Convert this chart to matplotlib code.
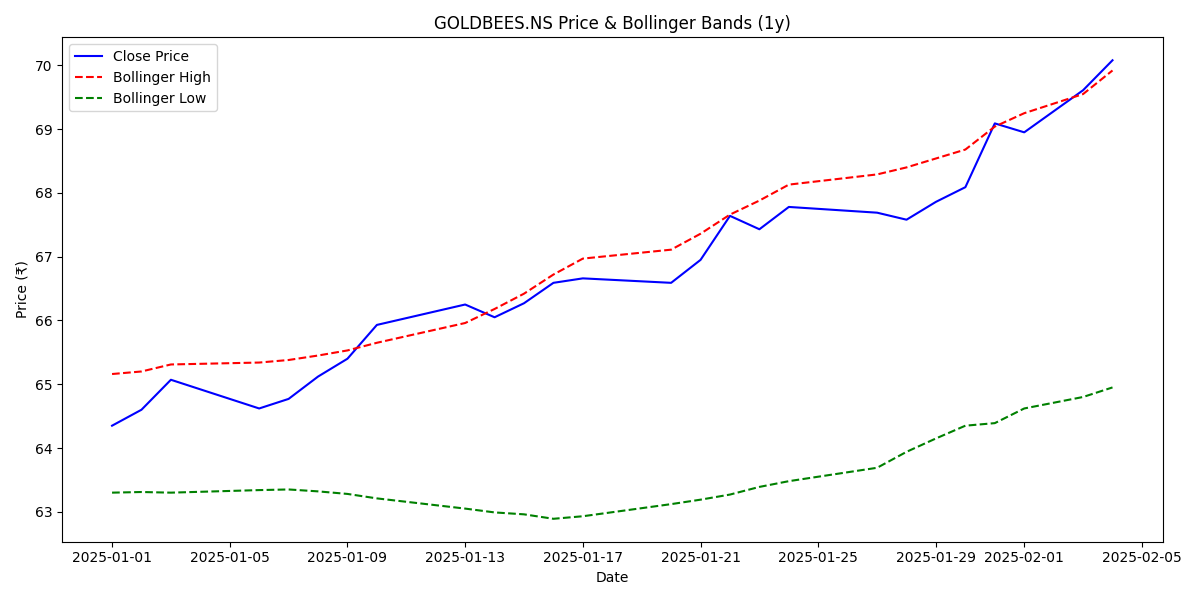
import matplotlib
matplotlib.use("Agg")
import matplotlib.pyplot as plt
import pandas as pd

dates = ["2025-01-01","2025-01-02","2025-01-03","2025-01-06","2025-01-07","2025-01-08","2025-01-09","2025-01-10",
         "2025-01-13","2025-01-14","2025-01-15","2025-01-16","2025-01-17","2025-01-20","2025-01-21","2025-01-22",
         "2025-01-23","2025-01-24","2025-01-27","2025-01-28","2025-01-29","2025-01-30","2025-01-31","2025-02-01",
         "2025-02-03","2025-02-04"]
close = [64.35,64.60,65.07,64.62,64.77,65.12,65.40,65.93,66.25,66.05,66.27,66.59,66.66,66.59,66.95,67.64,
         67.43,67.78,67.69,67.58,67.86,68.09,69.09,68.95,69.61,70.08]
bb_high = [65.16,65.20,65.31,65.34,65.38,65.45,65.53,65.65,65.96,66.18,66.42,66.72,66.97,67.11,67.36,67.66,
           67.88,68.13,68.29,68.40,68.54,68.68,69.04,69.25,69.55,69.92]
bb_low = [63.30,63.31,63.30,63.34,63.35,63.32,63.28,63.21,63.05,62.99,62.96,62.89,62.93,63.12,63.19,63.27,
          63.39,63.48,63.69,63.94,64.15,64.35,64.39,64.62,64.80,64.95]

x = pd.to_datetime(dates)
fig, ax = plt.subplots(figsize=(12, 6), dpi=100)
ax.plot(x, close, color="blue", label="Close Price")
ax.plot(x, bb_high, color="red", linestyle="--", label="Bollinger High")
ax.plot(x, bb_low, color="green", linestyle="--", label="Bollinger Low")
ax.set_title("GOLDBEES.NS Price & Bollinger Bands (1y)")
ax.set_xlabel("Date")
ax.set_ylabel("Price (₹)")
ax.legend(loc="upper left")
fig.tight_layout()
fig.savefig("out.png")
